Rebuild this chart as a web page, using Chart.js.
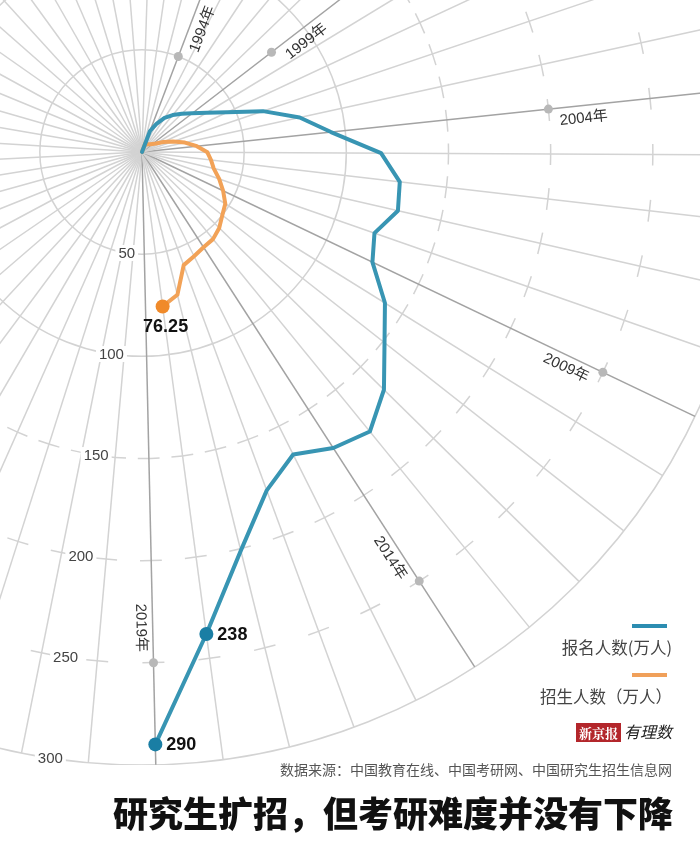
<!DOCTYPE html>
<html>
<head>
<meta charset="utf-8">
<script src="https://cdn.jsdelivr.net/npm/chart.js@4"></script>
<style>
  html, body { margin: 0; padding: 0; background: #fff; overflow: hidden; }
  #page { position: relative; width: 700px; height: 852px; overflow: hidden; background: #fff;
          font-family: "Noto Sans CJK SC", "Noto Sans", sans-serif; }
  #wrap { position: absolute; left: -471px; top: -461px; width: 1226px; height: 1226px; }
  .txt { position: absolute; white-space: nowrap; }
  .bar { position: absolute; height: 4px; width: 35px; }
</style>
</head>
<body>
<div id="page">
  <div id="wrap"><canvas id="polar" width="1226" height="1226"></canvas></div>

  <div class="bar" style="left:632px; top:624px; background:#2c8db1;"></div>
  <div class="txt" style="right:28px; top:635px; font-size:16.5px; color:#444;">报名人数(万人)</div>
  <div class="bar" style="left:632px; top:673px; background:#f0a05a;"></div>
  <div class="txt" style="right:28px; top:684px; font-size:16.5px; color:#444;">招生人数（万人）</div>
  <div class="txt" style="right:28px; top:719px; font-size:13px;">
    <span style="background:#b3262b; color:#fff; font-family:'Noto Serif CJK SC', serif; font-weight:700; padding:0 3px;">新京报</span>
    <span style="font-style:italic; color:#222; font-size:16px;">有理数</span>
  </div>
  <div class="txt" style="right:28px; top:759px; font-size:14px; color:#555;">数据来源：中国教育在线、中国考研网、中国研究生招生信息网</div>
  <div class="txt" style="right:27px; top:786px; font-size:35px; font-weight:900; color:#111;">研究生扩招，但考研难度并没有下降</div>
</div>

<script>
// years on the circle, one slot each
const years = [1994, 1995, 1996, 1997, 1998, 1999, 2000, 2001, 2002, 2003, 2004, 2005, 2006,
  2007, 2008, 2009, 2010, 2011, 2012, 2013, 2014, 2015, 2016, 2017, 2018, 2019];

// 报名人数(万人)
const applicants = [11, 15.5, 20, 23.5, 27, 31, 37, 46, 62.5, 79, 93, 117, 127, 128.5, 120.5,
  125, 140, 151, 166, 176.5, 172.5, 165.5, 176.5, 201, 238, 290];

// 招生人数(万人), up to 2018
const admissions = [5, 4, 4.5, 5, 5.5, 6.5, 8, 11.5, 16, 21.5, 27, 32, 34, 36, 40, 44, 48, 50,
  53, 55, 55.5, 57, 59, 72, 76.25];

const tickValues = [50, 100, 150, 200, 250, 300];
const markedYears = [1994, 1999, 2004, 2009, 2014, 2019];

const SLOTS = 57;
const BLUE = "#3895b3";
const BLUE_DOT = "#1a7ea4";
const ORANGE = "#f2a257";
const ORANGE_DOT = "#f08a2a";

// slot 0 is the origin, years start at slot 1, the rest of the circle stays empty
const labels = [];
for (let i = 0; i < SLOTS; i++) {
  labels.push(i >= 1 && i <= years.length ? years[i - 1] + "年" : "");
}

function toSlots(values) {
  const arr = new Array(SLOTS).fill(null);
  arr[0] = 0;
  values.forEach(function (v, i) { arr[i + 1] = v; });
  return arr;
}

function slotOf(year) {
  return years.indexOf(year) + 1;
}

const blueShown = [slotOf(2018), slotOf(2019)];
const orangeShown = [slotOf(2018)];

function isDashed(value) {
  return value === 150 || value === 200 || value === 250;
}

function dashFor(value, scale) {
  if (!isDashed(value)) return [];
  const r = scale.getDistanceFromCenterForValue(value);
  const step = (2 * Math.PI * r) / SLOTS;
  const dash = Math.min(22, step * 0.65);
  return [dash, step - dash];
}

function dashOffsetFor(value, scale) {
  if (!isDashed(value)) return 0;
  const r = scale.getDistanceFromCenterForValue(value);
  const step = (2 * Math.PI * r) / SLOTS;
  const dash = Math.min(22, step * 0.65);
  // arc starts at 3 o'clock; put the dashes across the spokes
  const slotAng = 2 * Math.PI / SLOTS;
  let a = scale.getIndexAngle(0) - Math.PI / 2;
  a = ((a % slotAng) + slotAng) % slotAng;
  return dash / 2 - a * r;
}

const annotate = {
  id: "annotate",
  beforeDatasetsDraw(chart) {
    const scale = chart.scales.r;
    const ctx = chart.ctx;
    ctx.save();

    // year marks along the spokes
    ctx.font = '15px "Liberation Sans", "Noto Sans CJK SC", sans-serif';
    ctx.textBaseline = "middle";
    const markDist = { 1994: 50, 1999: 80, 2004: 200, 2009: 250, 2014: 250, 2019: 250 };
    markedYears.forEach(function (y) {
      const idx = slotOf(y);
      const p = scale.getPointPosition(idx, scale.getDistanceFromCenterForValue(markDist[y]));
      const ang = scale.getIndexAngle(idx);
      ctx.fillStyle = "#b8b8b8";
      ctx.beginPath();
      ctx.arc(p.x, p.y, 4.5, 0, Math.PI * 2);
      ctx.fill();
      ctx.save();
      ctx.translate(p.x, p.y);
      ctx.rotate(ang - Math.PI / 2);
      ctx.fillStyle = "#333";
      if (ang < Math.PI / 2) {
        ctx.textAlign = "left";
        ctx.fillText(y + "年", 10, 13);
      } else {
        ctx.textAlign = "right";
        ctx.fillText(y + "年", -11, 12);
      }
      ctx.restore();
    });

    // radius labels, just left of straight down
    const a = 188.6 * Math.PI / 180;
    ctx.font = '15px "Liberation Sans", sans-serif';
    ctx.textAlign = "center";
    tickValues.forEach(function (v) {
      const d = scale.getDistanceFromCenterForValue(v);
      const x = scale.xCenter + d * Math.sin(a);
      const y = scale.yCenter - d * Math.cos(a);
      const w = ctx.measureText(String(v)).width;
      ctx.fillStyle = "#fff";
      ctx.fillRect(x - w / 2 - 3, y - 8, w + 6, 16);
      ctx.fillStyle = "#444";
      ctx.fillText(String(v), x, y + 1);
    });
    ctx.restore();
  },
  afterDatasetsDraw(chart) {
    const ctx = chart.ctx;
    ctx.save();
    ctx.font = 'bold 18px "Liberation Sans", Arial, sans-serif';
    ctx.fillStyle = "#111";
    ctx.textBaseline = "middle";
    const blue = chart.getDatasetMeta(0).data;
    blueShown.forEach(function (idx) {
      const pt = blue[idx];
      ctx.textAlign = "left";
      ctx.fillText(String(applicants[idx - 1]), pt.x + 11, pt.y + 1);
    });
    const orange = chart.getDatasetMeta(1).data;
    orangeShown.forEach(function (idx) {
      const pt = orange[idx];
      ctx.textAlign = "center";
      ctx.fillText(admissions[idx - 1].toFixed(2), pt.x + 3, pt.y + 21);
    });
    ctx.restore();
  },
};

const ctx = document.getElementById("polar").getContext("2d");
const polarChart = new Chart(ctx, {
  type: "radar",
  data: {
    labels: labels,
    datasets: [
      {
        label: "报名人数(万人)",
        data: toSlots(applicants),
        borderColor: BLUE,
        borderWidth: 4,
        fill: false,
        tension: 0,
        borderJoinStyle: "round",
        borderCapStyle: "round",
        pointRadius: function (c) { return blueShown.indexOf(c.dataIndex) >= 0 ? 7 : 0; },
        pointBackgroundColor: BLUE_DOT,
        pointBorderWidth: 0,
      },
      {
        label: "招生人数(万人)",
        data: toSlots(admissions),
        borderColor: ORANGE,
        borderWidth: 4,
        fill: false,
        tension: 0,
        borderJoinStyle: "round",
        borderCapStyle: "round",
        pointRadius: function (c) { return orangeShown.indexOf(c.dataIndex) >= 0 ? 7 : 0; },
        pointBackgroundColor: ORANGE_DOT,
        pointBorderWidth: 0,
      },
    ],
  },
  options: {
    responsive: false,
    animation: false,
    layout: { padding: 0 },
    plugins: {
      legend: { display: false },
      tooltip: { enabled: false },
    },
    scales: {
      r: {
        min: 0,
        max: 300,
        startAngle: 14.5,
        ticks: { display: false, stepSize: 50 },
        pointLabels: { display: false },
        grid: { circular: true, color: "#d3d3d3", lineWidth: 1.5 },
        border: {
          dash: function (c) { return dashFor(c.tick.value, c.chart.scales.r); },
          dashOffset: function (c) { return dashOffsetFor(c.tick.value, c.chart.scales.r); },
        },
        angleLines: {
          color: function (c) {
            const y = years[c.index - 1];
            return markedYears.indexOf(y) >= 0 ? "#a3a3a3" : "#d3d3d3";
          },
          lineWidth: 1.5,
        },
      },
    },
  },
  plugins: [annotate],
});
</script>
</body>
</html>
